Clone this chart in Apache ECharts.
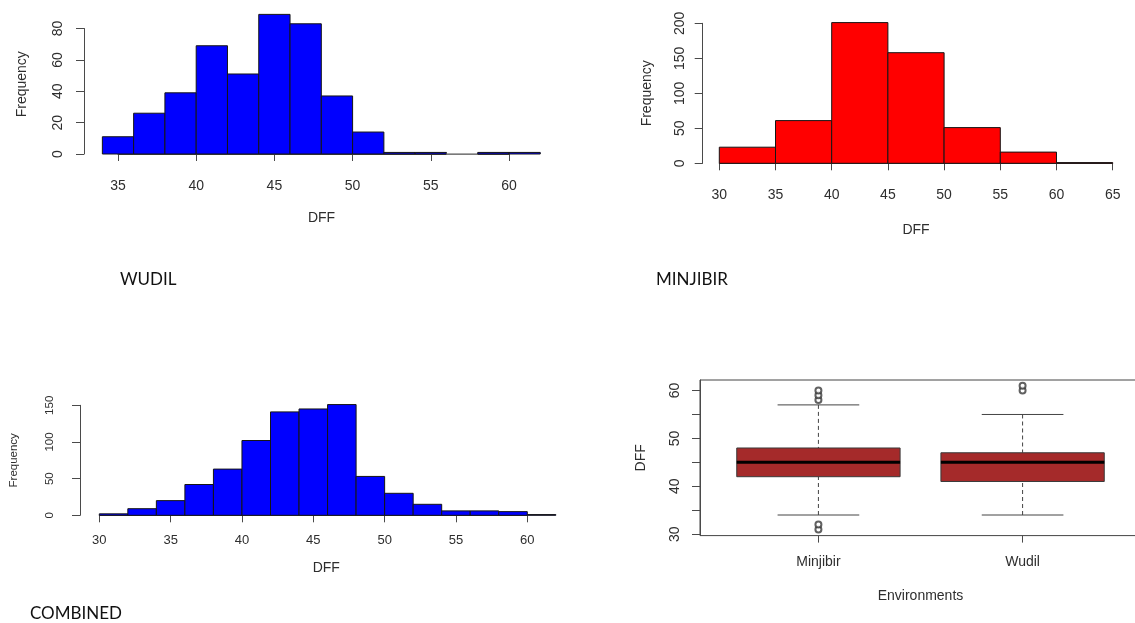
<!DOCTYPE html>
<html><head><meta charset="utf-8">
<script src="https://cdn.jsdelivr.net/npm/echarts@6/dist/echarts.min.js"></script>
<style>html,body{margin:0;padding:0;background:#fff}#c{width:1135px;height:623px}</style>
</head><body><div id="c"></div>
<script>
// ---------------- data ----------------
const wudilBreaks = [34,36,38,40,42,44,46,48,50,52,54,56,58,60,62];
const wudilCounts = [11,26,39,69,51,89,83,37,14,1,1,0,1,1];

const minjibirBreaks = [30,35,40,45,50,55,60,65];
const minjibirCounts = [23,61,201,158,51,16,1];

const combinedBreaks = [30,32,34,36,38,40,42,44,46,48,50,52,54,56,58,60,62];
const combinedCounts = [2,9,20,42,63,102,141,145,151,53,30,15,6,6,5,1];

const envCategories = ['Minjibir','Wudil'];
const boxLower  = [34,34];
const boxQ1     = [42,41];
const boxMedian = [45,45];
const boxQ3     = [48,47];
const boxUpper  = [57,55];
const minjibirOutliers = [58,59,60,31,32];
const wudilOutliers = [60,61];

const boxYTicks = [30,35,40,45,50,55,60];
const boxYLabels = [30,40,50,60];

const panelTitles = ['WUDIL','MINJIBIR','COMBINED'];

// ---------------- helpers ----------------
const RFONT = "'Liberation Sans', Arial, sans-serif";
const TXT = '#2e2e2e';
const AX = '#4a4a4a';

function histData(breaks, counts){
  return counts.map((c,i)=>[breaks[i], breaks[i+1], c]);
}
function histRender(color){
  return function(params, api){
    const p0 = api.coord([api.value(0), api.value(2)]);
    const p1 = api.coord([api.value(1), 0]);
    const empty = api.value(2) === 0;
    return {type:'rect',
      shape:{x:p0[0], y:p0[1], width:p1[0]-p0[0], height:p1[1]-p0[1]},
      style:{fill:color, stroke: empty ? '#8a8a8a' : '#151515', lineWidth:1}};
  };
}
function boxRender(params, api){
  const x = api.value(0), lo = api.value(1), q1 = api.value(2), md = api.value(3), q3 = api.value(4), hi = api.value(5);
  const hw = 0.4, cw = 0.2;
  const tl = api.coord([x-hw, q3]), br = api.coord([x+hw, q1]);
  const m0 = api.coord([x-hw, md]), m1 = api.coord([x+hw, md]);
  const pHi = api.coord([x, hi]), pQ3 = api.coord([x, q3]), pQ1 = api.coord([x, q1]), pLo = api.coord([x, lo]);
  const c0 = api.coord([x-cw, hi]), c1 = api.coord([x+cw, hi]);
  const d0 = api.coord([x-cw, lo]), d1 = api.coord([x+cw, lo]);
  const dash = {stroke:'#444', lineWidth:1, lineDash:[4,3]};
  const solid = {stroke:'#444', lineWidth:1};
  return {type:'group', children:[
    {type:'line', shape:{x1:pHi[0],y1:pHi[1],x2:pQ3[0],y2:pQ3[1]}, style:dash},
    {type:'line', shape:{x1:pLo[0],y1:pLo[1],x2:pQ1[0],y2:pQ1[1]}, style:dash},
    {type:'line', shape:{x1:c0[0],y1:c0[1],x2:c1[0],y2:c1[1]}, style:solid},
    {type:'line', shape:{x1:d0[0],y1:d0[1],x2:d1[0],y2:d1[1]}, style:solid},
    {type:'rect', shape:{x:tl[0], y:tl[1], width:br[0]-tl[0], height:br[1]-tl[1]}, style:{fill:'#A52A2A', stroke:'#3a3a3a', lineWidth:1}},
    {type:'line', shape:{x1:m0[0],y1:m0[1],x2:m1[0],y2:m1[1]}, style:{stroke:'#000', lineWidth:3}}
  ]};
}

function xAxisDef(gi, min, max, interval, opts){
  return {type:'value', gridIndex:gi, min:min, max:max, interval:interval, position:'bottom',
    offset:opts.offset, splitLine:{show:false},
    axisLine:{show:true, lineStyle:{color:AX, width:1}},
    axisTick:{show:true, length:7, inside:false, lineStyle:{color:AX}},
    axisLabel:{show:true, margin:opts.margin, color:TXT, fontFamily:RFONT, fontSize:opts.fontSize||14, showMinLabel:true, showMaxLabel:true},
    name:'DFF', nameLocation:'middle', nameGap:opts.nameGap,
    nameTextStyle:{color:TXT, fontFamily:RFONT, fontSize:14, padding:[0,0,0,opts.pad||0]}};
}
function yAxisDef(gi, min, max, interval, opts){
  return {type:'value', gridIndex:gi, min:min, max:max, interval:interval, position:'left',
    offset:opts.offset, splitLine:{show:false},
    axisLine:{show:true, lineStyle:{color:AX, width:1}},
    axisTick:{show:true, length:opts.tick||8, lineStyle:{color:AX}},
    axisLabel:{show:true, rotate:90, margin:opts.margin, color:TXT, fontFamily:RFONT, fontSize:opts.fontSize||14, showMinLabel:true, showMaxLabel:true},
    name:opts.name||'Frequency', nameLocation:'middle', nameGap:opts.nameGap, nameRotate:90,
    nameTextStyle:{color:TXT, fontFamily:RFONT, fontSize:opts.nameSize||14, padding:[0,0,0,opts.pad||0]}};
}

const chart = echarts.init(document.getElementById('c'), null, {renderer:'canvas'});

const titleStyle = {fontFamily:'Lato, sans-serif', fontWeight:'normal', fontSize:17, color:'#111', lineHeight:18};
const option = {
  backgroundColor:'#ffffff',
  animation:false,
  title:[
    {text:panelTitles[0], left:120, top:271, padding:0, textStyle:titleStyle},
    {text:panelTitles[1], left:656, top:271, padding:0, textStyle:titleStyle},
    {text:panelTitles[2], left:30, top:605, padding:0, textStyle:titleStyle}
  ],
  grid:[
    {left:118, top:28.5, width:391, height:125.5, outerBoundsMode:'none', containLabel:false},
    {left:719.3, top:23.3, width:393.4, height:140, outerBoundsMode:'none', containLabel:false},
    {left:99.3, top:405.3, width:428, height:110, outerBoundsMode:'none', containLabel:false},
    {left:700, top:380, width:441, height:155.6, outerBoundsMode:'none', containLabel:false,
      show:true, borderColor:'#444', borderWidth:1, backgroundColor:'transparent'}
  ],
  xAxis:[
    xAxisDef(0, 35, 60, 5, {offset:7, margin:18, nameGap:50, pad:16}),
    xAxisDef(1, 30, 65, 5, {offset:6.7, margin:18, nameGap:53}),
    xAxisDef(2, 30, 60, 5, {offset:6.4, margin:12, nameGap:39, pad:26, fontSize:13}),
    {type:'value', gridIndex:3, min:0.42, max:2.58, position:'bottom',
      splitLine:{show:false}, axisLine:{show:false},
      axisTick:{show:true, length:7, customValues:[1,2], lineStyle:{color:AX}},
      axisLabel:{show:true, customValues:[1,2], margin:20, color:TXT, fontFamily:RFONT, fontSize:14,
        formatter:function(v){return envCategories[Math.round(v)-1];}},
      name:'Environments', nameLocation:'middle', nameGap:54,
      nameTextStyle:{color:TXT, fontFamily:RFONT, fontSize:14}}
  ],
  yAxis:[
    yAxisDef(0, 0, 80, 20, {offset:34, margin:19, nameGap:55, pad:14}),
    yAxisDef(1, 0, 200, 50, {offset:16.6, margin:16, nameGap:49}),
    yAxisDef(2, 0, 150, 50, {offset:19.3, margin:24, nameGap:60, fontSize:11.5, nameSize:11.5}),
    {type:'value', gridIndex:3, min:29.7, max:62.2, position:'left',
      splitLine:{show:false}, axisLine:{show:true, lineStyle:{color:AX}},
      axisTick:{show:true, length:8, customValues:boxYTicks, lineStyle:{color:AX}},
      axisLabel:{show:true, rotate:90, customValues:boxYLabels, margin:18, color:TXT, fontFamily:RFONT, fontSize:14},
      name:'DFF', nameLocation:'middle', nameGap:52, nameRotate:90,
      nameTextStyle:{color:TXT, fontFamily:RFONT, fontSize:14}}
  ],
  series:[
    {type:'custom', xAxisIndex:0, yAxisIndex:0, clip:false, renderItem:histRender('#0000FF'), data:histData(wudilBreaks, wudilCounts)},
    {type:'custom', xAxisIndex:1, yAxisIndex:1, clip:false, renderItem:histRender('#FF0000'), data:histData(minjibirBreaks, minjibirCounts)},
    {type:'custom', xAxisIndex:2, yAxisIndex:2, clip:false, renderItem:histRender('#0000FF'), data:histData(combinedBreaks, combinedCounts)},
    {type:'custom', xAxisIndex:3, yAxisIndex:3, clip:false, renderItem:boxRender,
      data:envCategories.map((c,i)=>[i+1, boxLower[i], boxQ1[i], boxMedian[i], boxQ3[i], boxUpper[i]])},
    {type:'scatter', xAxisIndex:3, yAxisIndex:3, symbol:'emptyCircle', symbolSize:6,
      itemStyle:{color:'#3a3a3a', borderColor:'#3a3a3a', borderWidth:0.8},
      data:minjibirOutliers.map(v=>[1,v]).concat(wudilOutliers.map(v=>[2,v]))}
  ]
};
chart.setOption(option);
</script>
</body></html>
